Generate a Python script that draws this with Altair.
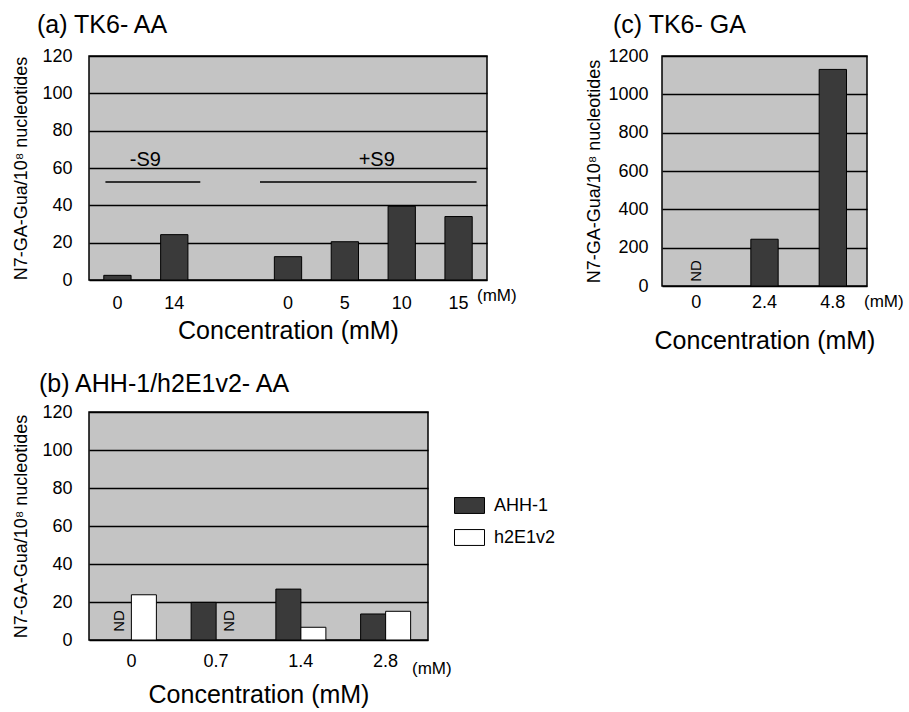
import altair as alt
import pandas as pd

FONT = "Liberation Sans"
BG = "#c4c4c4"
BAR = "#3a3a3a"

y_title = "N7-GA-Gua/10⁸ nucleotides"
x_title = "Concentration (mM)"
unit_label = "(mM)"

# ---------------- (a) TK6- AA ----------------
a_title = "(a) TK6- AA"
a_categories = ["0", "14", " ", "0 ", "5", "10", "15"]   # " " is the gap between -S9 and +S9
a_conc = ["0", "14", "0 ", "5", "10", "15"]
a_values = [2.5, 24.3, 12.5, 20.5, 39.5, 34.0]
a_ticks = [0, 20, 40, 60, 80, 100, 120]
s9_labels = ["-S9", "+S9"]
s9_level = [52.5, 52.5]
s9_text_level = [64.5, 64.5]

# ---------------- (c) TK6- GA ----------------
c_title = "(c) TK6- GA"
c_conc = ["0", "2.4", "4.8"]
c_values = [None, 244, 1130]
c_ticks = [0, 200, 400, 600, 800, 1000, 1200]

# ---------------- (b) AHH-1/h2E1v2- AA ----------------
b_title = "(b) AHH-1/h2E1v2- AA"
b_conc = ["0", "0.7", "1.4", "2.8"]
b_series = ["AHH-1", "h2E1v2"]
b_ahh1 = [None, 19.8, 26.8, 13.7]
b_h2e1v2 = [23.8, None, 6.7, 15.1]
b_ticks = [0, 20, 40, 60, 80, 100, 120]
nd_text = "ND"


def y_axis(vals, label_pad=17, title_pad=11):
    return alt.Axis(values=vals, title=y_title, format="d", grid=True, gridColor="black",
                    gridWidth=1.5, gridOpacity=1, domain=False, ticks=False,
                    labelFontSize=18, labelPadding=label_pad, titleFontSize=18,
                    titlePadding=title_pad, labelOverlap=False)


def x_axis(label_pad, title_pad):
    return alt.Axis(title=x_title, labelAngle=0, domain=False, ticks=False,
                    labelFontSize=18, labelPadding=label_pad, titleFontSize=25,
                    titlePadding=title_pad)


def title(text, dx, offset):
    return alt.TitleParams(text=text, anchor="start", frame="group", dx=dx,
                           offset=offset, fontSize=25, fontWeight="normal",
                           font=FONT, color="black")


# ---- panel (a)
WA, HA = 398, 224
xa = alt.Scale(domain=a_categories, paddingInner=0.52, paddingOuter=0.26)
ya = alt.Scale(domain=[0, 120], nice=False)
xa_axis = x_axis(14, 6)
ya_axis = y_axis(a_ticks)
df_a = pd.DataFrame({"conc": a_conc, "value": a_values})
bars_a = alt.Chart(df_a).mark_bar(color=BAR, stroke="black", strokeWidth=1).encode(
    x=alt.X("conc:N", scale=xa, axis=xa_axis),
    y=alt.Y("value:Q", scale=ya, axis=ya_axis),
)
df_minus = pd.DataFrame({"from": [a_conc[0]], "to": [a_conc[1]], "level": [s9_level[0]],
                         "label": [s9_labels[0]], "tl": [s9_text_level[0]]})
df_plus = pd.DataFrame({"from": [a_conc[2]], "to": [a_conc[5]], "level": [s9_level[1]],
                        "label": [s9_labels[1]], "tl": [s9_text_level[1]], "at": [a_conc[4]]})
rule_minus = alt.Chart(df_minus).mark_rule(color="black", strokeWidth=1.5,
                                           xOffset=-12, x2Offset=26).encode(
    x=alt.X("from:N", scale=xa, axis=xa_axis),
    x2=alt.X2("to:N"),
    y=alt.Y("level:Q", scale=ya, axis=ya_axis),
)
rule_plus = alt.Chart(df_plus).mark_rule(color="black", strokeWidth=1.5,
                                         xOffset=-28, x2Offset=18).encode(
    x=alt.X("from:N", scale=xa, axis=xa_axis),
    x2=alt.X2("to:N"),
    y=alt.Y("level:Q", scale=ya, axis=ya_axis),
)
text_minus = alt.Chart(df_minus).mark_text(fontSize=20, baseline="middle", dx=28).encode(
    x=alt.X("from:N", scale=xa, axis=xa_axis),
    y=alt.Y("tl:Q", scale=ya, axis=ya_axis),
    text="label:N",
)
text_plus = alt.Chart(df_plus).mark_text(fontSize=20, baseline="middle", dx=-25).encode(
    x=alt.X("at:N", scale=xa, axis=xa_axis),
    y=alt.Y("tl:Q", scale=ya, axis=ya_axis),
    text="label:N",
)
unit_a = alt.Chart(pd.DataFrame({"t": [unit_label]})).mark_text(
    align="left", baseline="middle", fontSize=17).encode(
    x=alt.value(WA - 10), y=alt.value(HA + 16), text="t:N")
panel_a = alt.layer(bars_a, rule_minus, rule_plus, text_minus, text_plus, unit_a).properties(
    width=WA, height=HA, title=title(a_title, -52, 9))

# ---- panel (c)
WC, HC = 205, 230
xc = alt.Scale(domain=c_conc, paddingInner=0.6, paddingOuter=0.3)
yc = alt.Scale(domain=[0, 1200], nice=False)
xc_axis = x_axis(7, 17)
yc_axis = y_axis(c_ticks, 14, 4)
df_c = pd.DataFrame({"conc": c_conc, "value": c_values})
bars_c = alt.Chart(df_c).transform_filter("isValid(datum.value)").mark_bar(
    color=BAR, stroke="black", strokeWidth=1).encode(
    x=alt.X("conc:N", scale=xc, axis=xc_axis),
    y=alt.Y("value:Q", scale=yc, axis=yc_axis),
)
nd_c = alt.Chart(df_c).transform_filter("!isValid(datum.value)").transform_calculate(
    t=f"'{nd_text}'").mark_text(angle=270, fontSize=15, baseline="middle", align="center").encode(
    x=alt.X("conc:N", scale=xc, axis=xc_axis),
    y=alt.value(HC - 15),
    text="t:N",
)
unit_c = alt.Chart(pd.DataFrame({"t": [unit_label]})).mark_text(
    align="left", baseline="middle", fontSize=17).encode(
    x=alt.value(WC - 3), y=alt.value(HC + 16), text="t:N")
panel_c = alt.layer(bars_c, nd_c, unit_c).properties(
    width=WC, height=HC, title=title(c_title, -49, 9))

# ---- panel (b)
WB, HB = 339, 228
rows = []
for i, c in enumerate(b_conc):
    rows.append({"conc": c, "series": b_series[0], "value": b_ahh1[i]})
    rows.append({"conc": c, "series": b_series[1], "value": b_h2e1v2[i]})
df_b = pd.DataFrame(rows)
xb = alt.Scale(domain=b_conc, paddingInner=0.41, paddingOuter=0.205)
yb = alt.Scale(domain=[0, 120], nice=False)
offb = alt.Scale(domain=b_series)
xb_axis = x_axis(12, 12)
yb_axis = y_axis(b_ticks)
bars_b = alt.Chart(df_b).transform_filter("isValid(datum.value)").mark_bar(
    stroke="black", strokeWidth=1, opacity=1).encode(
    x=alt.X("conc:N", scale=xb, axis=xb_axis),
    xOffset=alt.XOffset("series:N", scale=offb),
    y=alt.Y("value:Q", scale=yb, axis=yb_axis),
    color=alt.Color("series:N", scale=alt.Scale(domain=b_series, range=[BAR, "white"]),
                    legend=alt.Legend(title=None, orient="none", legendX=365, legendY=78,
                                      symbolType="M-1,-0.53H1V0.53H-1Z", symbolSize=900,
                                      symbolStrokeColor="black", symbolStrokeWidth=1,
                                      symbolOpacity=1, labelFontSize=18, labelFont=FONT,
                                      labelColor="black", rowPadding=6, labelOffset=9,
                                      padding=0)),
)
nd_b = alt.Chart(df_b).transform_filter("!isValid(datum.value)").transform_calculate(
    t=f"'{nd_text}'").mark_text(angle=270, fontSize=15, baseline="middle", align="center").encode(
    x=alt.X("conc:N", scale=xb, axis=xb_axis),
    xOffset=alt.XOffset("series:N", scale=offb),
    y=alt.value(HB - 19),
    text="t:N",
)
unit_b = alt.Chart(pd.DataFrame({"t": [unit_label]})).mark_text(
    align="left", baseline="middle", fontSize=17).encode(
    x=alt.value(WB - 16), y=alt.value(HB + 29), text="t:N")
panel_b = alt.layer(bars_b, nd_b, unit_b).properties(
    width=WB, height=HB, title=title(b_title, -50, 6))

chart = alt.concat(panel_a, panel_c, panel_b, columns=2, bounds="flush",
                   spacing={"row": 126, "column": 175}).resolve_legend(
    color="independent").properties(
    padding={"left": 12, "top": 12, "right": 0, "bottom": 0}
).configure_view(
    fill=BG, stroke="black", strokeWidth=1.5
).configure_axis(
    labelFont=FONT, titleFont=FONT, labelColor="black", titleColor="black",
    titleFontWeight="normal"
).configure_text(font=FONT, color="black")

chart.save("out.html", embed_options={"renderer": "svg", "actions": False})
